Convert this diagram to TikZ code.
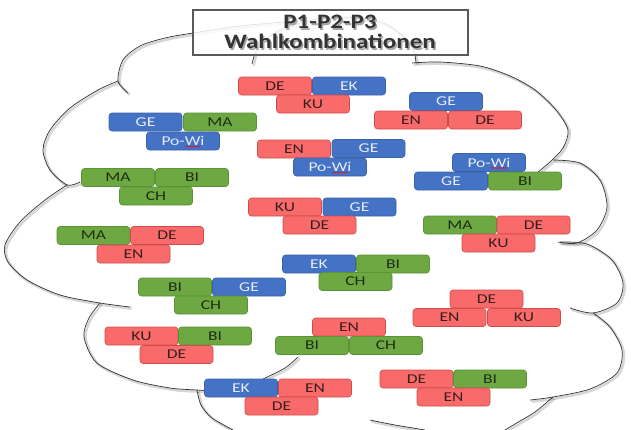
\documentclass[tikz,border=0pt]{standalone}
\usepackage{fontspec}
\setmainfont{Carlito}
\newfontfamily\titlefont[FakeStretch=1.22]{Carlito}
\newfontfamily\boxfont[FakeStretch=1.3]{Carlito}
\usetikzlibrary{decorations.pathmorphing}
\definecolor{redF}{HTML}{F96B6B}
\definecolor{redD}{HTML}{D04B4B}
\definecolor{blueF}{HTML}{4472C4}
\definecolor{blueD}{HTML}{3A62A8}
\definecolor{greenF}{HTML}{6DA843}
\definecolor{greenD}{HTML}{5A9236}
\definecolor{redT}{HTML}{3A1E1E}
\definecolor{greenT}{HTML}{1F2E14}
\definecolor{blueT}{HTML}{E6ECF8}
\newcommand\cloudarc[1]{%
  \draw[arcshade] plot[smooth] coordinates {#1};
  \draw[arcline] plot[smooth] coordinates {#1};}
\begin{document}
\begin{tikzpicture}[x=1pt,y=-1pt,
  subj/.style={rounded corners=3pt, minimum width=73pt, minimum height=18pt,
    inner sep=0pt, font=\boxfont\fontsize{13.5}{13.5}\selectfont, line width=0.6pt},
  rd/.style={subj, fill=redF, draw=redD, text=redT},
  bl/.style={subj, fill=blueF, draw=blueD, text=blueT},
  gr/.style={subj, fill=greenF, draw=greenD, text=greenT},
  arcline/.style={line width=0.7pt, black!80},
  arcshade/.style={line width=2.6pt, black, opacity=0.16,
    transform canvas={shift={(1.6pt,-1.6pt)}}},
  spell/.style={red, line width=0.4pt, decorate,
    decoration={snake, amplitude=0.5pt, segment length=2pt}},
  titletext/.style={font=\titlefont\bfseries\fontsize{20.5}{20}\selectfont, align=center}
]
\fill[white] (0,0) rectangle (631,429);
\useasboundingbox (0,0) rectangle (631,429);

% cloud outline
\cloudarc{(128,93) (118,81) (123,60) (140,46) (165,38) (193,33) (240,26) (285,22)}
\cloudarc{(118,81) (98,90) (70,108) (50,130) (43,150) (50,170) (67,185) (80,182)}
\cloudarc{(67,185) (45,200) (20,222) (5,245) (8,262) (27,280) (60,295) (100,303) (130,307)}
\cloudarc{(100,303) (89,318) (84,337) (97,363) (133,380) (170,388) (197,390) (212,391)}
\cloudarc{(197,390) (201,405) (212,418) (233,430)}
\cloudarc{(298,357) (285,368) (263,379)}
\cloudarc{(370,420) (395,425) (425,430)}
\cloudarc{(553,397) (535,412) (520,421) (505,430)}
\cloudarc{(593,313) (610,327) (622,350) (617,373) (590,389) (553,397) (530,400)}
\cloudarc{(560,242) (587,244) (612,260) (623,283) (617,303) (593,313) (570,308)}
\cloudarc{(553,160) (580,163) (600,180) (607,207) (597,230) (577,243) (558,242)}
\cloudarc{(412,63) (440,62) (480,66) (510,76) (535,90) (556,110) (568,130) (563,148) (550,162) (538,172)}
\cloudarc{(252,64) (258,48) (280,30) (330,17) (380,22) (405,38) (414,52) (416,63)}

% title box
\draw[black!65, line width=1.3pt, fill=white, fill opacity=0.85] (193,10) rectangle (468,55);
\node[titletext, text=black!35] at (331.5,33.5) {P1-P2-P3\\Wahlkombinationen};
\node[titletext, text=black!80] (title) at (330,32) {P1-P2-P3\\Wahlkombinationen};

% combinations
\node[rd] (a1) at (275,86) {DE};
\node[bl] (a2) at (349,86) {EK};
\node[rd] (a3) at (313,104) {KU};

\node[bl] (b1) at (446,101.5) {GE};
\node[rd] (b2) at (411,120) {EN};
\node[rd] (b3) at (485,120) {DE};

\node[bl] (c1) at (145.5,122) {GE};
\node[gr] (c2) at (220,122) {MA};
\node[bl] (c3) at (183,141) {Po-Wi};

\node[rd] (d1) at (294,149) {EN};
\node[bl] (d2) at (368.5,148.5) {GE};
\node[bl] (d3) at (330,167) {Po-Wi};

\node[bl] (e1) at (489,162.5) {Po-Wi};
\node[bl] (e2) at (451,181) {GE};
\node[gr] (e3) at (525,181) {BI};

\node[gr] (f1) at (118,177.5) {MA};
\node[gr] (f2) at (192,177.5) {BI};
\node[gr] (f3) at (156,196) {CH};

\node[rd] (g1) at (285,207) {KU};
\node[bl] (g2) at (359.5,207) {GE};
\node[rd] (g3) at (319.5,225) {DE};

\node[gr] (h1) at (460,225) {MA};
\node[rd] (h2) at (533.5,225) {DE};
\node[rd] (h3) at (498.5,243) {KU};

\node[gr] (i1) at (93.5,235.5) {MA};
\node[rd] (i2) at (167,235.5) {DE};
\node[rd] (i3) at (133.5,254) {EN};

\node[bl] (j1) at (319,264) {EK};
\node[gr] (j2) at (393,264) {BI};
\node[gr] (j3) at (355.5,281.5) {CH};

\node[gr] (k1) at (175,287) {BI};
\node[bl] (k2) at (249,287) {GE};
\node[gr] (k3) at (211,305) {CH};

\node[rd] (l1) at (486.5,299) {DE};
\node[rd] (l2) at (449.5,317.5) {EN};
\node[rd] (l3) at (524,317.5) {KU};

\node[rd] (m1) at (349,327) {EN};
\node[gr] (m2) at (312,345.5) {BI};
\node[gr] (m3) at (386,345.5) {CH};

\node[rd] (n1) at (141.5,336) {KU};
\node[gr] (n2) at (215,336) {BI};
\node[rd] (n3) at (176.5,354.5) {DE};

\node[rd] (o1) at (416.5,379) {DE};
\node[gr] (o2) at (490,379) {BI};
\node[rd] (o3) at (453.5,397) {EN};

\node[bl] (p1) at (241,388) {EK};
\node[rd] (p2) at (315,388) {EN};
\node[rd] (p3) at (281.5,406) {DE};

% spell-check underlines
\draw[spell] ([xshift=2pt,yshift=-5.5pt]c3.center) -- ++(16,0);
\draw[spell] ([xshift=2pt,yshift=-5.5pt]d3.center) -- ++(16,0);
\draw[spell] ([xshift=2pt,yshift=-5.5pt]e1.center) -- ++(16,0);
\end{tikzpicture}
\end{document}
